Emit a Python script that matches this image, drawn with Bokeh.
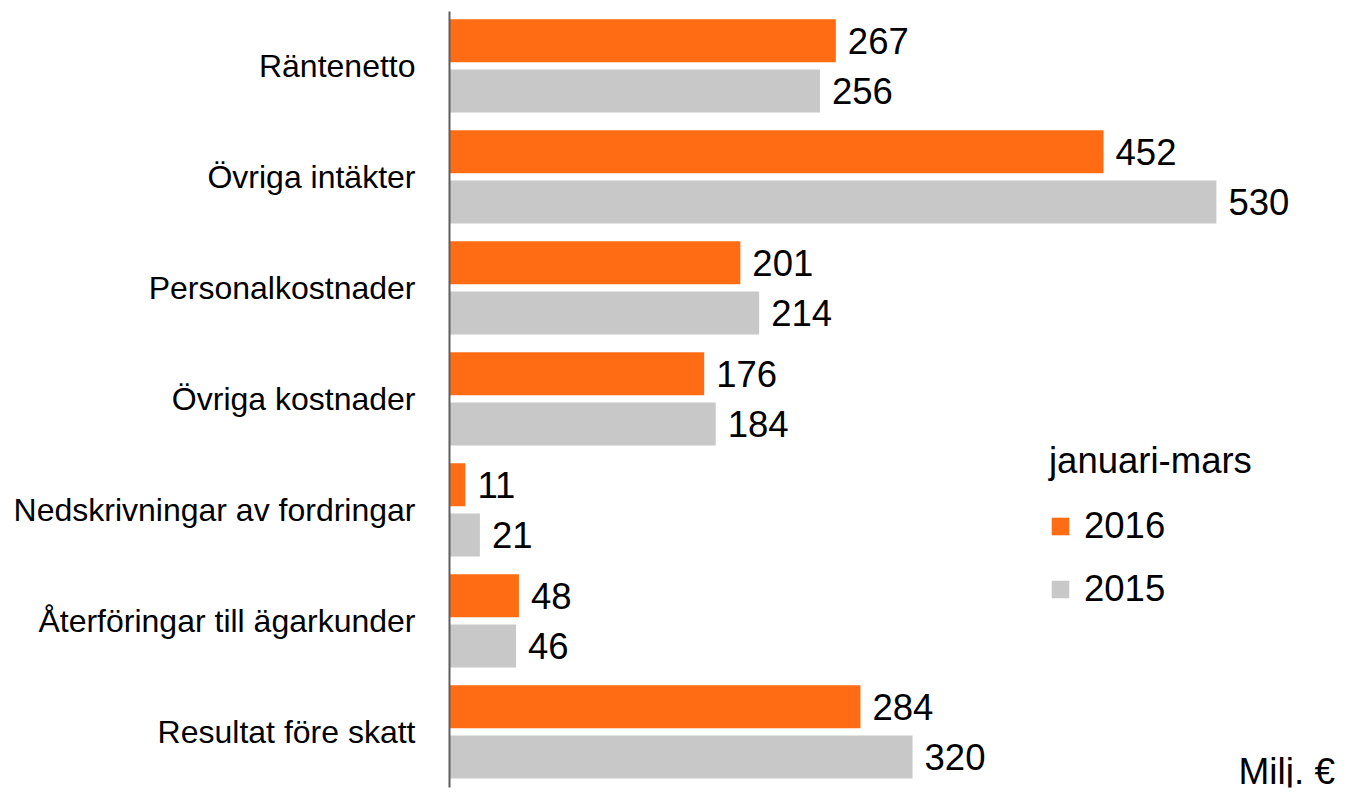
from bokeh.plotting import figure
from bokeh.models import Range1d, FixedTicker, Legend, LegendItem, Label, ColumnDataSource
from bokeh.core.properties import value
from bokeh.transform import dodge
from bokeh.embed import file_html
from bokeh.resources import INLINE

categories = ["Räntenetto", "Övriga intäkter", "Personalkostnader", "Övriga kostnader",
              "Nedskrivningar av fordringar", "Återföringar till ägarkunder", "Resultat före skatt"]
values_2016 = [267, 452, 201, 176, 11, 48, 284]
values_2015 = [256, 530, 214, 184, 21, 46, 320]
series_names = ["2016", "2015"]
legend_title = "januari-mars"
unit_label = "Milj. €"

ORANGE = "#FF6C14"
GREY = "#C8C8C8"
FONT = "Liberation Sans"

pos = list(range(len(categories)))
src = ColumnDataSource(dict(
    pos=pos,
    v2016=values_2016,
    v2015=values_2015,
    l2016=[str(v) for v in values_2016],
    l2015=[str(v) for v in values_2015],
))

W, H = 1345, 792
LEFT = 449
TOP, BOTTOM = 11, 5
frame_w = W - LEFT
p = figure(width=W, height=H, output_backend="svg", toolbar_location=None,
           x_range=Range1d(0, frame_w / 1.447), y_range=Range1d(6.503, -0.488),
           min_border_left=LEFT, min_border_right=0, min_border_top=TOP, min_border_bottom=BOTTOM)
p.outline_line_color = None
p.xgrid.visible = False
p.ygrid.visible = False
p.xaxis.visible = False

yax = p.yaxis[0]
yax.ticker = FixedTicker(ticks=pos)
yax.major_label_overrides = {i: c for i, c in zip(pos, categories)}
yax.major_tick_line_color = None
yax.minor_tick_line_color = None
yax.axis_line_color = "#5e5e5e"
yax.axis_line_width = 2
yax.major_label_standoff = 28
yax.major_label_text_font = FONT
yax.major_label_text_font_size = "32px"
yax.major_label_text_color = "#000000"

off_a, off_b, bh = -0.225, 0.228, 0.387
r1 = p.hbar(y=dodge("pos", off_a), left=0, right="v2016", height=bh, source=src,
            fill_color=ORANGE, line_color=None)
r2 = p.hbar(y=dodge("pos", off_b), left=0, right="v2015", height=bh, source=src,
            fill_color=GREY, line_color=None)

p.text(x="v2016", y=dodge("pos", off_a), text="l2016", source=src, x_offset=12,
       text_baseline="middle", text_font=value(FONT), text_font_size="36.5px", text_color="#000000")
p.text(x="v2015", y=dodge("pos", off_b), text="l2015", source=src, x_offset=12,
       text_baseline="middle", text_font=value(FONT), text_font_size="36.5px", text_color="#000000")

legend = Legend(items=[LegendItem(label=series_names[0], renderers=[r1]),
                       LegendItem(label=series_names[1], renderers=[r2])],
                title=legend_title, location=(600, 177))
legend.border_line_color = None
legend.background_fill_alpha = 0
legend.padding = 0
legend.margin = 0
legend.glyph_width = 22
legend.glyph_height = 22
legend.label_standoff = 13
legend.spacing = 21
legend.title_standoff = 23
legend.label_text_font = FONT
legend.label_text_font_size = "36.5px"
legend.label_text_color = "#000000"
legend.title_text_font = FONT
legend.title_text_font_size = "36.5px"
legend.title_text_font_style = "normal"
legend.title_text_color = "#000000"
p.add_layout(legend)

p.add_layout(Label(x=789, y=16, x_units="screen", y_units="screen", text=unit_label,
                   text_font=FONT, text_font_size="37px", text_baseline="middle",
                   text_color="#000000"))

open("out.html", "w").write(file_html(p, INLINE))
